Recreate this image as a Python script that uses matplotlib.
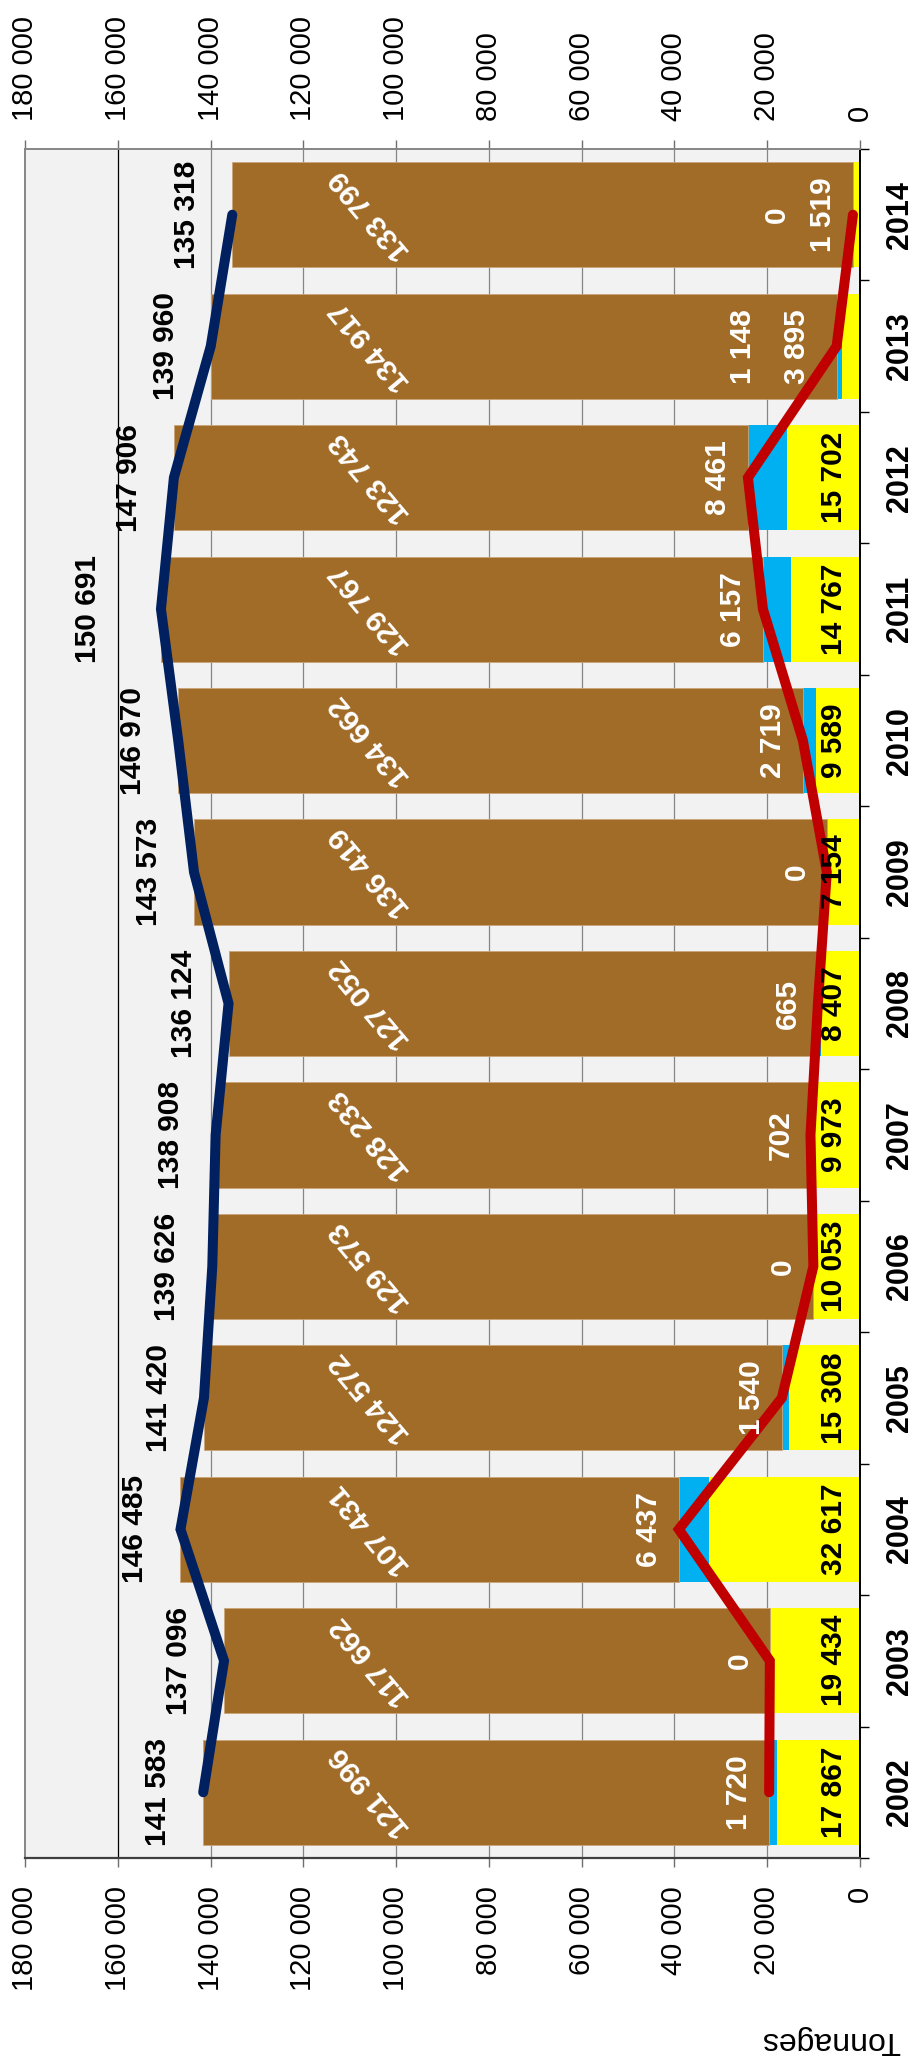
import matplotlib
matplotlib.use("Agg")
import matplotlib.pyplot as plt
import numpy as np

plt.rcParams["font.family"] = ["Liberation Sans", "DejaVu Sans"]

# Tonnages per year, stacked from the base outward
years = [2002, 2003, 2004, 2005, 2006, 2007, 2008, 2009, 2010, 2011, 2012, 2013, 2014]
yellow = [17867, 19434, 32617, 15308, 10053, 9973, 8407, 7154, 9589, 14767, 15702, 3895, 1519]
blue = [1720, 0, 6437, 1540, 0, 702, 665, 0, 2719, 6157, 8461, 1148, 0]
brown = [121996, 117662, 107431, 124572, 129573, 128233, 127052, 136419, 134662, 129767, 123743, 134917, 133799]
value_ticks = [0, 20000, 40000, 60000, 80000, 100000, 120000, 140000, 160000, 180000]

YELLOW = "#FFFF00"
BLUE = "#00B0F0"
BROWN = "#A16C28"
NAVY = "#002060"
RED = "#C00000"
PANEL = "#F2F2F2"
GRID = "#868686"


def fmt(v):
    return f"{v:,.0f}".replace(",", " ")


y_arr = np.array(yellow)
b_arr = np.array(blue)
r_arr = np.array(brown)
lower = y_arr + b_arr          # yellow + blue
totals = lower + r_arr         # whole bar
pos = np.arange(len(years))

fig = plt.figure(figsize=(9.13, 20.67), dpi=100)
ax = fig.add_axes([25 / 913, 1 - 1858 / 2067, (860 - 25) / 913, (1858 - 149) / 2067])
ax.set_facecolor(PANEL)

# vertical grid
for v in value_ticks[1:-1]:
    ax.axvline(v, color="black" if v == 160000 else GRID, lw=0.9, zorder=1)

bw = 0.8
ax.barh(pos, y_arr, height=bw, color=YELLOW, zorder=2)
ax.barh(pos, b_arr, left=y_arr, height=bw, color=BLUE, zorder=2)
ax.barh(pos, r_arr, left=lower, height=bw, color=BROWN, edgecolor="#C9A57A", linewidth=0.6, zorder=2)

ax.plot(totals, pos, color=NAVY, lw=7.2, solid_capstyle="round", solid_joinstyle="miter", zorder=4)
ax.plot(lower, pos, color=RED, lw=7.2, solid_capstyle="round", solid_joinstyle="miter", zorder=4)

ax.set_xlim(180000, 0)
ax.set_ylim(-0.5, len(years) - 0.5)

# value axes on both long edges
ax.set_xticks(value_ticks)
ax.set_xticklabels([fmt(v) for v in value_ticks])
ax.tick_params(axis="x", which="major", top=True, bottom=True, labeltop=True, labelbottom=True,
               direction="out", length=6.5, width=1, color="#6f6f6f", pad=13.5,
               labelsize=21, labelrotation=90)

# category axis
ax.yaxis.tick_right()
ax.set_yticks(pos)
ax.set_yticklabels([str(y) for y in years], rotation=90, fontweight="bold", fontsize=22, va="center")
ax.set_yticks(np.arange(-0.5, len(years), 1.0), minor=True)
ax.tick_params(axis="y", which="major", length=0, pad=18, right=True, left=False)
ax.tick_params(axis="y", which="minor", length=6.5, width=1, color="black", right=True, left=False)

ax.spines["top"].set_color(GRID)
ax.spines["top"].set_linewidth(1.4)
ax.spines["left"].set_color(GRID)
ax.spines["left"].set_linewidth(1.4)
ax.spines["bottom"].set_color("#404040")
ax.spines["bottom"].set_linewidth(1.6)
ax.spines["right"].set_color("black")
ax.spines["right"].set_linewidth(1.4)

# data labels
YELLOW_X = 5600
BLUE_OFFSET = 6500
BROWN_X = 105600
TOTAL_OFFSET = 9700
yellow_label_override = {2013: 13580, 2014: 7976}
blue_label_override = {2013: 25220, 2014: 17890}
total_label_override = {2011: 166400}

lab = dict(fontsize=21.5, fontweight="bold", ha="center", va="center", zorder=6)
for i, yr in enumerate(years):
    yx = yellow_label_override.get(yr, YELLOW_X)
    ycol = "white" if yr in yellow_label_override else "black"
    ax.text(yx, i, fmt(yellow[i]), rotation=90, color=ycol, **lab)
    bx = blue_label_override.get(yr, lower[i] + BLUE_OFFSET)
    ax.text(bx, i, fmt(blue[i]), rotation=90, color="white", **lab)
    ax.text(BROWN_X, i, fmt(brown[i]), rotation=130, color="white", **lab)
    tx = total_label_override.get(yr, totals[i] + TOTAL_OFFSET)
    ax.text(tx, i, fmt(totals[i]), rotation=90, color="black", **lab)

fig.text(831 / 913, 1 - 2040 / 2067, "Tonnages", rotation=180, ha="center", va="center", fontsize=23)

fig.savefig("out.png", dpi=100)
